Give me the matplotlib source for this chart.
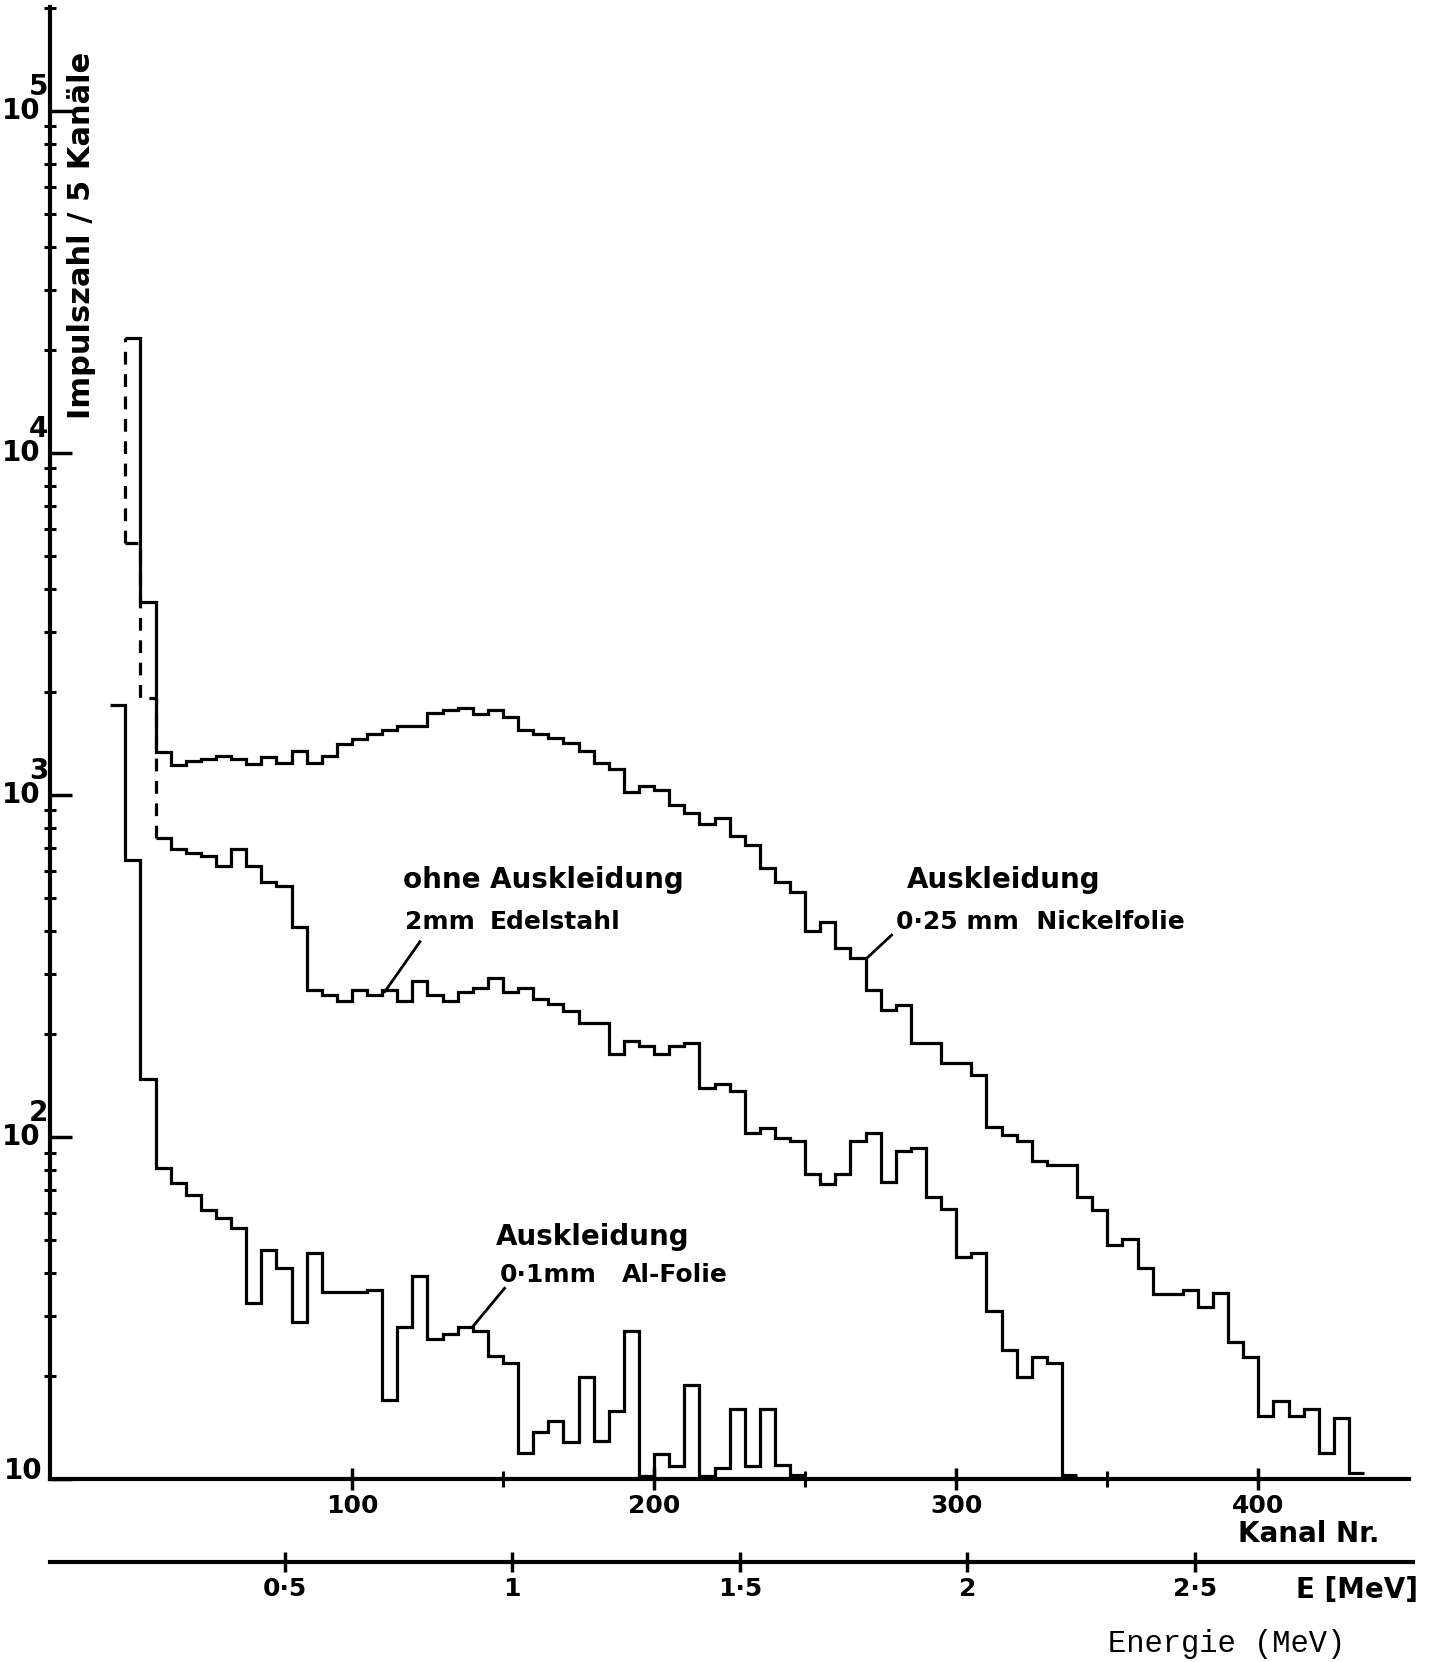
import matplotlib
matplotlib.use("Agg")
import matplotlib.pyplot as plt
from matplotlib.ticker import LogLocator, NullFormatter, FixedLocator
import numpy as np

plt.rcParams['font.family'] = ['DejaVu Sans']

# Impulse per 5 channels, bins start at the given channel (width 5)
ni_start = 25
ni_counts = [21600, 3650, 1337, 1222, 1253, 1270, 1303, 1270, 1233, 1288,
             1240, 1345, 1240, 1303, 1411, 1454, 1503, 1542, 1593, 1593,
             1738, 1766, 1790, 1722, 1766, 1694, 1552, 1509, 1462, 1420,
             1340, 1240, 1193, 1022, 1062, 1035, 934, 887, 820, 853,
             760, 713, 611, 557, 520, 399, 424, 356, 333, 268,
             235, 243, 188, 188, 165, 164, 152, 107, 101, 97.5,
             85, 82.5, 82.5, 66.9, 61.1, 48.3, 50.4, 41.4, 34.8, 34.8,
             35.7, 31.8, 35.0, 25.1, 22.8, 15.3, 16.9, 15.3, 16.0, 11.9,
             15.1, 10.4]

st_start = 25
st_counts = [5450, 1920, 750, 694, 676, 664, 618, 694, 618, 557,
             542, 410, 269, 260, 249, 269, 260, 269, 249, 286,
             260, 249, 266, 272, 291, 266, 272, 253, 244, 234,
             215, 215, 175, 191, 184, 175, 184, 188, 139, 143,
             136, 103, 106, 99, 97.5, 77.8, 72.9, 77.8, 97.3, 103,
             73.9, 91.2, 92.7, 66.6, 61.7, 44.5, 45.8, 31.0, 23.8, 19.9,
             22.8, 21.9, 10.3]

al_start = 20
al_counts = [1825, 643, 148, 80.9, 73.1, 67.6, 61.1, 57.8, 54.0, 32.8,
             46.7, 41.3, 28.8, 45.7, 35.1, 35.1, 35.1, 35.8, 17.0, 27.9,
             39.2, 25.6, 26.5, 27.8, 27.0, 22.9, 21.8, 11.9, 13.7, 14.8,
             12.8, 19.9, 12.9, 15.8, 27.0, 10.2, 11.8, 10.9, 18.8, 10.2,
             10.8, 16.0, 10.9, 16.0, 11.0, 10.3]

bin_width = 5
kanal_ticks = [100, 200, 300, 400]
kanal_minor = [150, 250, 350]
energy_ticks = [0.5, 1, 1.5, 2, 2.5]
energy_labels = ['0·5', '1', '1·5', '2', '2·5']

def edges_for(start, counts):
    return start + bin_width * np.arange(len(counts) + 1)

ni_edges = edges_for(ni_start, ni_counts)
st_edges = edges_for(st_start, st_counts)
al_edges = edges_for(al_start, al_counts)

fig = plt.figure(figsize=(14.45, 16.62), dpi=100)
ax = fig.add_axes([0.03446, 0.1101, 0.9754 - 0.03446, 0.9958 - 0.1101])

lw = 2.3
dash = (0, (4, 3))
ax.stairs(ni_counts, ni_edges, baseline=None, color='black', lw=lw)
ax.stairs(al_counts, al_edges, baseline=None, color='black', lw=lw)
# steel: first two bins dashed where they leave the nickel curve
ax.stairs(st_counts[:2], st_edges[:3], baseline=None, color='black', lw=lw,
          linestyle=dash)
ax.vlines(st_edges[0], st_counts[0], ni_counts[0], color='black', lw=lw,
          linestyles=[dash])
ax.vlines(st_edges[2], st_counts[2], st_counts[1], color='black', lw=lw,
          linestyles=[dash])
ax.stairs(st_counts[2:], st_edges[2:], baseline=None, color='black', lw=lw)

ax.set_yscale('log')
ax.set_xlim(0, 450)
ax.set_ylim(10, 10 ** 5.303)

for s in ['top', 'right']:
    ax.spines[s].set_visible(False)
for s in ['left', 'bottom']:
    ax.spines[s].set_linewidth(3)

ax.yaxis.set_major_locator(LogLocator(base=10, numticks=10))
ax.yaxis.set_minor_locator(LogLocator(base=10, subs=np.arange(2, 10), numticks=20))
ax.yaxis.set_major_formatter(NullFormatter())
ax.yaxis.set_minor_formatter(NullFormatter())
ax.tick_params(axis='y', which='major', direction='in', length=16, width=2.5)
ax.tick_params(axis='y', which='minor', direction='inout', length=9, width=2.2)

ax.xaxis.set_major_locator(FixedLocator(kanal_ticks))
ax.xaxis.set_minor_locator(FixedLocator(kanal_minor))
ax.set_xticklabels([str(t) for t in kanal_ticks], fontsize=18, fontweight='bold')
ax.tick_params(axis='x', which='major', direction='inout', length=16, width=2.5, pad=3)
ax.tick_params(axis='x', which='minor', direction='inout', length=12, width=2.2)

lab = dict(fontsize=20, fontweight='bold', textcoords='offset points',
           xycoords=('axes fraction', 'data'))
for p in [2, 3, 4, 5]:
    ax.annotate('10', xy=(0, 10 ** p), xytext=(-7, 0), ha='right', va='center', **lab)
    ax.annotate(str(p), xy=(0, 10 ** p), xytext=(-1, 17), ha='right', va='center', **lab)
ax.annotate('10', xy=(0, 10), xytext=(-5, 6), ha='right', va='center', **lab)

# curve labels
txt = dict(fontweight='bold', color='black', va='center', ha='left')
ax.text(117, 564, 'ohne Auskleidung', fontsize=20, **txt)
ax.text(117.5, 424, '2mm', fontsize=18, **txt)
ax.text(145.6, 424, 'Edelstahl', fontsize=18, **txt)
ax.plot([122.5, 110.9], [372, 266], color='black', lw=2)

ax.text(283.5, 564, 'Auskleidung', fontsize=20, **txt)
ax.text(280, 424, '0·25 mm  Nickelfolie', fontsize=18, **txt)
ax.plot([278.6, 270.4], [389, 333], color='black', lw=2)

ax.text(147.7, 50.9, 'Auskleidung', fontsize=20, **txt)
ax.text(149, 39.6, '0·1mm', fontsize=18, **txt)
ax.text(189.5, 39.6, 'Al-Folie', fontsize=18, **txt)
ax.plot([150.5, 140], [36.1, 27.9], color='black', lw=2)

# energy scale
eax = fig.add_axes([0.0346, 0.0602, 0.978 - 0.0346, 0.0])
eax.set_xlim(-0.016, 2.98)
eax.set_yticks([])
for s in ['top', 'right', 'left']:
    eax.spines[s].set_visible(False)
eax.spines['bottom'].set_linewidth(3)
eax.set_xticks(energy_ticks)
eax.set_xticklabels(energy_labels, fontsize=18, fontweight='bold')
eax.tick_params(axis='x', direction='inout', length=14, width=2.5, pad=4)

fig.text(0.0565, 0.8584, 'Impulszahl / 5 Kanäle', rotation=90, fontsize=22,
         fontweight='bold', ha='center', va='center')
fig.text(0.857, 0.077, 'Kanal Nr.', fontsize=20, fontweight='bold', ha='left', va='center')
fig.text(0.8967, 0.0433, 'E [MeV]', fontsize=20, fontweight='bold', ha='left', va='center')
fig.text(0.7667, 0.0108, 'Energie (MeV)', fontsize=22, family='Liberation Mono',
         ha='left', va='center')

fig.savefig('out.png', dpi=100)
